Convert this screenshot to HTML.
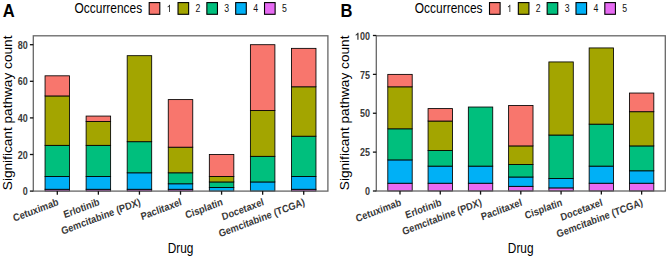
<!DOCTYPE html>
<html><head><meta charset="utf-8"><style>
html,body{margin:0;padding:0;background:#fff;}
svg{display:block;font-family:"Liberation Sans",sans-serif;}
</style></head><body>
<svg width="668" height="258" viewBox="0 0 668 258">
<rect width="668" height="258" fill="#fff"/>
<text transform="translate(2.80 16.80) scale(0.890 1)" font-size="18.60" font-weight="bold" text-anchor="start" fill="#000">A</text>
<text transform="translate(74.50 13.10) scale(0.860 1)" font-size="13.90" font-weight="normal" text-anchor="start" fill="#000">Occurrences</text>
<rect x="149.20" y="2.6" width="10.6" height="11.7" fill="#F8766D" stroke="#000" stroke-width="1.1"/>
<path transform="translate(166.70 11.90) scale(0.00427 -0.00508)" d="M763 0L583 0L583 1102Q518 1043 413 983Q307 924 223 894L223 1061Q374 1129 488 1226Q601 1323 648 1409L763 1409Z" fill="#111"/>
<rect x="178.03" y="2.6" width="10.6" height="11.7" fill="#A3A500" stroke="#000" stroke-width="1.1"/>
<text transform="translate(195.53 11.90) scale(0.840 1)" font-size="10.40" font-weight="normal" text-anchor="start" fill="#111">2</text>
<rect x="206.86" y="2.6" width="10.6" height="11.7" fill="#00BF7D" stroke="#000" stroke-width="1.1"/>
<text transform="translate(224.36 11.90) scale(0.840 1)" font-size="10.40" font-weight="normal" text-anchor="start" fill="#111">3</text>
<rect x="235.69" y="2.6" width="10.6" height="11.7" fill="#00B0F6" stroke="#000" stroke-width="1.1"/>
<text transform="translate(253.19 11.90) scale(0.840 1)" font-size="10.40" font-weight="normal" text-anchor="start" fill="#111">4</text>
<rect x="264.52" y="2.6" width="10.6" height="11.7" fill="#E76BF3" stroke="#000" stroke-width="1.1"/>
<text transform="translate(282.02 11.90) scale(0.840 1)" font-size="10.40" font-weight="normal" text-anchor="start" fill="#111">5</text>
<rect x="45.05" y="189.27" width="24.50" height="1.83" fill="#E76BF3" stroke="#000" stroke-width="0.85"/>
<rect x="45.05" y="176.46" width="24.50" height="12.81" fill="#00B0F6" stroke="#000" stroke-width="0.85"/>
<rect x="45.05" y="145.35" width="24.50" height="31.11" fill="#00BF7D" stroke="#000" stroke-width="0.85"/>
<rect x="45.05" y="95.94" width="24.50" height="49.41" fill="#A3A500" stroke="#000" stroke-width="0.85"/>
<rect x="45.05" y="75.81" width="24.50" height="20.13" fill="#F8766D" stroke="#000" stroke-width="0.85"/>
<rect x="86.12" y="189.27" width="24.50" height="1.83" fill="#E76BF3" stroke="#000" stroke-width="0.85"/>
<rect x="86.12" y="176.46" width="24.50" height="12.81" fill="#00B0F6" stroke="#000" stroke-width="0.85"/>
<rect x="86.12" y="145.35" width="24.50" height="31.11" fill="#00BF7D" stroke="#000" stroke-width="0.85"/>
<rect x="86.12" y="121.56" width="24.50" height="23.79" fill="#A3A500" stroke="#000" stroke-width="0.85"/>
<rect x="86.12" y="116.07" width="24.50" height="5.49" fill="#F8766D" stroke="#000" stroke-width="0.85"/>
<rect x="127.19" y="189.27" width="24.50" height="1.83" fill="#E76BF3" stroke="#000" stroke-width="0.85"/>
<rect x="127.19" y="172.80" width="24.50" height="16.47" fill="#00B0F6" stroke="#000" stroke-width="0.85"/>
<rect x="127.19" y="141.69" width="24.50" height="31.11" fill="#00BF7D" stroke="#000" stroke-width="0.85"/>
<rect x="127.19" y="55.68" width="24.50" height="86.01" fill="#A3A500" stroke="#000" stroke-width="0.85"/>
<rect x="168.26" y="189.27" width="24.50" height="1.83" fill="#E76BF3" stroke="#000" stroke-width="0.85"/>
<rect x="168.26" y="183.78" width="24.50" height="5.49" fill="#00B0F6" stroke="#000" stroke-width="0.85"/>
<rect x="168.26" y="172.80" width="24.50" height="10.98" fill="#00BF7D" stroke="#000" stroke-width="0.85"/>
<rect x="168.26" y="147.18" width="24.50" height="25.62" fill="#A3A500" stroke="#000" stroke-width="0.85"/>
<rect x="168.26" y="99.60" width="24.50" height="47.58" fill="#F8766D" stroke="#000" stroke-width="0.85"/>
<rect x="209.33" y="187.44" width="24.50" height="3.66" fill="#00B0F6" stroke="#000" stroke-width="0.85"/>
<rect x="209.33" y="181.95" width="24.50" height="5.49" fill="#00BF7D" stroke="#000" stroke-width="0.85"/>
<rect x="209.33" y="176.46" width="24.50" height="5.49" fill="#A3A500" stroke="#000" stroke-width="0.85"/>
<rect x="209.33" y="154.50" width="24.50" height="21.96" fill="#F8766D" stroke="#000" stroke-width="0.85"/>
<rect x="250.40" y="181.95" width="24.50" height="9.15" fill="#00B0F6" stroke="#000" stroke-width="0.85"/>
<rect x="250.40" y="156.33" width="24.50" height="25.62" fill="#00BF7D" stroke="#000" stroke-width="0.85"/>
<rect x="250.40" y="110.58" width="24.50" height="45.75" fill="#A3A500" stroke="#000" stroke-width="0.85"/>
<rect x="250.40" y="44.70" width="24.50" height="65.88" fill="#F8766D" stroke="#000" stroke-width="0.85"/>
<rect x="291.47" y="189.27" width="24.50" height="1.83" fill="#E76BF3" stroke="#000" stroke-width="0.85"/>
<rect x="291.47" y="176.46" width="24.50" height="12.81" fill="#00B0F6" stroke="#000" stroke-width="0.85"/>
<rect x="291.47" y="136.20" width="24.50" height="40.26" fill="#00BF7D" stroke="#000" stroke-width="0.85"/>
<rect x="291.47" y="86.79" width="24.50" height="49.41" fill="#A3A500" stroke="#000" stroke-width="0.85"/>
<rect x="291.47" y="48.36" width="24.50" height="38.43" fill="#F8766D" stroke="#000" stroke-width="0.85"/>
<rect x="33.30" y="35.80" width="294.60" height="155.30" fill="none" stroke="#666666" stroke-width="1.3"/>
<line x1="29.90" y1="191.10" x2="33.30" y2="191.10" stroke="#111" stroke-width="1.3"/>
<text transform="translate(22.80 195.25) scale(0.890 1)" font-size="10.10" font-weight="bold" text-anchor="start" fill="#383838">0</text>
<line x1="29.90" y1="154.50" x2="33.30" y2="154.50" stroke="#111" stroke-width="1.3"/>
<text transform="translate(17.80 158.65) scale(0.890 1)" font-size="10.10" font-weight="bold" text-anchor="start" fill="#383838">2</text>
<text transform="translate(22.80 158.65) scale(0.890 1)" font-size="10.10" font-weight="bold" text-anchor="start" fill="#383838">0</text>
<line x1="29.90" y1="117.90" x2="33.30" y2="117.90" stroke="#111" stroke-width="1.3"/>
<text transform="translate(17.80 122.05) scale(0.890 1)" font-size="10.10" font-weight="bold" text-anchor="start" fill="#383838">4</text>
<text transform="translate(22.80 122.05) scale(0.890 1)" font-size="10.10" font-weight="bold" text-anchor="start" fill="#383838">0</text>
<line x1="29.90" y1="81.30" x2="33.30" y2="81.30" stroke="#111" stroke-width="1.3"/>
<text transform="translate(17.80 85.45) scale(0.890 1)" font-size="10.10" font-weight="bold" text-anchor="start" fill="#383838">6</text>
<text transform="translate(22.80 85.45) scale(0.890 1)" font-size="10.10" font-weight="bold" text-anchor="start" fill="#383838">0</text>
<line x1="29.90" y1="44.70" x2="33.30" y2="44.70" stroke="#111" stroke-width="1.3"/>
<text transform="translate(17.80 48.85) scale(0.890 1)" font-size="10.10" font-weight="bold" text-anchor="start" fill="#383838">8</text>
<text transform="translate(22.80 48.85) scale(0.890 1)" font-size="10.10" font-weight="bold" text-anchor="start" fill="#383838">0</text>
<line x1="57.30" y1="191.10" x2="57.30" y2="194.70" stroke="#111" stroke-width="1.3"/>
<text transform="translate(59.10 204.80) scale(0.890 1) rotate(-18.70)" font-size="10.40" font-weight="bold" text-anchor="end" fill="#383838">Cetuximab</text>
<line x1="98.37" y1="191.10" x2="98.37" y2="194.70" stroke="#111" stroke-width="1.3"/>
<text transform="translate(100.17 204.80) scale(0.890 1) rotate(-18.70)" font-size="10.40" font-weight="bold" text-anchor="end" fill="#383838">Erlotinib</text>
<line x1="139.44" y1="191.10" x2="139.44" y2="194.70" stroke="#111" stroke-width="1.3"/>
<text transform="translate(141.24 204.80) scale(0.890 1) rotate(-18.70)" font-size="10.40" font-weight="bold" text-anchor="end" fill="#383838">Gemcitabine (PDX)</text>
<line x1="180.51" y1="191.10" x2="180.51" y2="194.70" stroke="#111" stroke-width="1.3"/>
<text transform="translate(182.31 204.80) scale(0.890 1) rotate(-18.70)" font-size="10.40" font-weight="bold" text-anchor="end" fill="#383838">Paclitaxel</text>
<line x1="221.58" y1="191.10" x2="221.58" y2="194.70" stroke="#111" stroke-width="1.3"/>
<text transform="translate(223.38 204.80) scale(0.890 1) rotate(-18.70)" font-size="10.40" font-weight="bold" text-anchor="end" fill="#383838">Cisplatin</text>
<line x1="262.65" y1="191.10" x2="262.65" y2="194.70" stroke="#111" stroke-width="1.3"/>
<text transform="translate(264.45 204.80) scale(0.890 1) rotate(-18.70)" font-size="10.40" font-weight="bold" text-anchor="end" fill="#383838">Docetaxel</text>
<line x1="303.72" y1="191.10" x2="303.72" y2="194.70" stroke="#111" stroke-width="1.3"/>
<text transform="translate(305.52 204.80) scale(0.890 1) rotate(-18.70)" font-size="10.40" font-weight="bold" text-anchor="end" fill="#383838">Gemcitabine (TCGA)</text>
<text transform="translate(180.60 252.70) scale(0.835 1)" font-size="14.20" font-weight="normal" text-anchor="middle" fill="#000">Drug</text>
<text transform="translate(11.60 112.90) scale(0.88 1) rotate(-90)" font-size="13.65" text-anchor="middle" fill="#000">Significant pathway count</text>
<text transform="translate(340.60 16.80) scale(0.890 1)" font-size="18.60" font-weight="bold" text-anchor="start" fill="#000">B</text>
<text transform="translate(414.80 13.10) scale(0.860 1)" font-size="13.90" font-weight="normal" text-anchor="start" fill="#000">Occurrences</text>
<rect x="489.50" y="2.6" width="10.6" height="11.7" fill="#F8766D" stroke="#000" stroke-width="1.1"/>
<path transform="translate(507.00 11.90) scale(0.00427 -0.00508)" d="M763 0L583 0L583 1102Q518 1043 413 983Q307 924 223 894L223 1061Q374 1129 488 1226Q601 1323 648 1409L763 1409Z" fill="#111"/>
<rect x="518.33" y="2.6" width="10.6" height="11.7" fill="#A3A500" stroke="#000" stroke-width="1.1"/>
<text transform="translate(535.83 11.90) scale(0.840 1)" font-size="10.40" font-weight="normal" text-anchor="start" fill="#111">2</text>
<rect x="547.16" y="2.6" width="10.6" height="11.7" fill="#00BF7D" stroke="#000" stroke-width="1.1"/>
<text transform="translate(564.66 11.90) scale(0.840 1)" font-size="10.40" font-weight="normal" text-anchor="start" fill="#111">3</text>
<rect x="575.99" y="2.6" width="10.6" height="11.7" fill="#00B0F6" stroke="#000" stroke-width="1.1"/>
<text transform="translate(593.49 11.90) scale(0.840 1)" font-size="10.40" font-weight="normal" text-anchor="start" fill="#111">4</text>
<rect x="604.82" y="2.6" width="10.6" height="11.7" fill="#E76BF3" stroke="#000" stroke-width="1.1"/>
<text transform="translate(622.32 11.90) scale(0.840 1)" font-size="10.40" font-weight="normal" text-anchor="start" fill="#111">5</text>
<rect x="387.80" y="183.22" width="24.40" height="7.78" fill="#E76BF3" stroke="#000" stroke-width="0.85"/>
<rect x="387.80" y="159.90" width="24.40" height="23.32" fill="#00B0F6" stroke="#000" stroke-width="0.85"/>
<rect x="387.80" y="128.80" width="24.40" height="31.10" fill="#00BF7D" stroke="#000" stroke-width="0.85"/>
<rect x="387.80" y="86.81" width="24.40" height="41.99" fill="#A3A500" stroke="#000" stroke-width="0.85"/>
<rect x="387.80" y="74.38" width="24.40" height="12.44" fill="#F8766D" stroke="#000" stroke-width="0.85"/>
<rect x="428.07" y="183.22" width="24.40" height="7.78" fill="#E76BF3" stroke="#000" stroke-width="0.85"/>
<rect x="428.07" y="166.12" width="24.40" height="17.10" fill="#00B0F6" stroke="#000" stroke-width="0.85"/>
<rect x="428.07" y="150.57" width="24.40" height="15.55" fill="#00BF7D" stroke="#000" stroke-width="0.85"/>
<rect x="428.07" y="121.03" width="24.40" height="29.54" fill="#A3A500" stroke="#000" stroke-width="0.85"/>
<rect x="428.07" y="108.59" width="24.40" height="12.44" fill="#F8766D" stroke="#000" stroke-width="0.85"/>
<rect x="468.34" y="183.22" width="24.40" height="7.78" fill="#E76BF3" stroke="#000" stroke-width="0.85"/>
<rect x="468.34" y="166.12" width="24.40" height="17.10" fill="#00B0F6" stroke="#000" stroke-width="0.85"/>
<rect x="468.34" y="107.03" width="24.40" height="59.09" fill="#00BF7D" stroke="#000" stroke-width="0.85"/>
<rect x="508.61" y="186.34" width="24.40" height="4.66" fill="#E76BF3" stroke="#000" stroke-width="0.85"/>
<rect x="508.61" y="177.00" width="24.40" height="9.33" fill="#00B0F6" stroke="#000" stroke-width="0.85"/>
<rect x="508.61" y="164.56" width="24.40" height="12.44" fill="#00BF7D" stroke="#000" stroke-width="0.85"/>
<rect x="508.61" y="145.91" width="24.40" height="18.66" fill="#A3A500" stroke="#000" stroke-width="0.85"/>
<rect x="508.61" y="105.48" width="24.40" height="40.43" fill="#F8766D" stroke="#000" stroke-width="0.85"/>
<rect x="548.88" y="187.89" width="24.40" height="3.11" fill="#E76BF3" stroke="#000" stroke-width="0.85"/>
<rect x="548.88" y="178.56" width="24.40" height="9.33" fill="#00B0F6" stroke="#000" stroke-width="0.85"/>
<rect x="548.88" y="135.02" width="24.40" height="43.54" fill="#00BF7D" stroke="#000" stroke-width="0.85"/>
<rect x="548.88" y="61.94" width="24.40" height="73.09" fill="#A3A500" stroke="#000" stroke-width="0.85"/>
<rect x="589.15" y="183.22" width="24.40" height="7.78" fill="#E76BF3" stroke="#000" stroke-width="0.85"/>
<rect x="589.15" y="166.12" width="24.40" height="17.10" fill="#00B0F6" stroke="#000" stroke-width="0.85"/>
<rect x="589.15" y="124.14" width="24.40" height="41.98" fill="#00BF7D" stroke="#000" stroke-width="0.85"/>
<rect x="589.15" y="47.94" width="24.40" height="76.20" fill="#A3A500" stroke="#000" stroke-width="0.85"/>
<rect x="629.42" y="183.22" width="24.40" height="7.78" fill="#E76BF3" stroke="#000" stroke-width="0.85"/>
<rect x="629.42" y="170.78" width="24.40" height="12.44" fill="#00B0F6" stroke="#000" stroke-width="0.85"/>
<rect x="629.42" y="145.91" width="24.40" height="24.88" fill="#00BF7D" stroke="#000" stroke-width="0.85"/>
<rect x="629.42" y="111.70" width="24.40" height="34.21" fill="#A3A500" stroke="#000" stroke-width="0.85"/>
<rect x="629.42" y="93.04" width="24.40" height="18.66" fill="#F8766D" stroke="#000" stroke-width="0.85"/>
<rect x="376.30" y="35.80" width="289.00" height="155.20" fill="none" stroke="#666666" stroke-width="1.3"/>
<line x1="372.90" y1="191.00" x2="376.30" y2="191.00" stroke="#111" stroke-width="1.3"/>
<text transform="translate(364.90 195.15) scale(0.890 1)" font-size="10.10" font-weight="bold" text-anchor="start" fill="#383838">0</text>
<line x1="372.90" y1="152.12" x2="376.30" y2="152.12" stroke="#111" stroke-width="1.3"/>
<text transform="translate(359.90 156.28) scale(0.890 1)" font-size="10.10" font-weight="bold" text-anchor="start" fill="#383838">2</text>
<text transform="translate(364.90 156.28) scale(0.890 1)" font-size="10.10" font-weight="bold" text-anchor="start" fill="#383838">5</text>
<line x1="372.90" y1="113.25" x2="376.30" y2="113.25" stroke="#111" stroke-width="1.3"/>
<text transform="translate(359.90 117.40) scale(0.890 1)" font-size="10.10" font-weight="bold" text-anchor="start" fill="#383838">5</text>
<text transform="translate(364.90 117.40) scale(0.890 1)" font-size="10.10" font-weight="bold" text-anchor="start" fill="#383838">0</text>
<line x1="372.90" y1="74.38" x2="376.30" y2="74.38" stroke="#111" stroke-width="1.3"/>
<text transform="translate(359.90 78.53) scale(0.890 1)" font-size="10.10" font-weight="bold" text-anchor="start" fill="#383838">7</text>
<text transform="translate(364.90 78.53) scale(0.890 1)" font-size="10.10" font-weight="bold" text-anchor="start" fill="#383838">5</text>
<line x1="372.90" y1="35.50" x2="376.30" y2="35.50" stroke="#111" stroke-width="1.3"/>
<path transform="translate(354.91 39.65) scale(0.00439 -0.00493)" d="M825 0L544 0L544 1018Q390 879 181 813L181 1058Q291 1093 420 1189Q549 1286 597 1409L825 1409Z" fill="#383838"/>
<text transform="translate(359.90 39.65) scale(0.890 1)" font-size="10.10" font-weight="bold" text-anchor="start" fill="#383838">0</text>
<text transform="translate(364.90 39.65) scale(0.890 1)" font-size="10.10" font-weight="bold" text-anchor="start" fill="#383838">0</text>
<line x1="400.00" y1="191.00" x2="400.00" y2="194.60" stroke="#111" stroke-width="1.3"/>
<text transform="translate(401.80 205.20) scale(0.890 1) rotate(-18.70)" font-size="10.40" font-weight="bold" text-anchor="end" fill="#383838">Cetuximab</text>
<line x1="440.27" y1="191.00" x2="440.27" y2="194.60" stroke="#111" stroke-width="1.3"/>
<text transform="translate(442.07 205.20) scale(0.890 1) rotate(-18.70)" font-size="10.40" font-weight="bold" text-anchor="end" fill="#383838">Erlotinib</text>
<line x1="480.54" y1="191.00" x2="480.54" y2="194.60" stroke="#111" stroke-width="1.3"/>
<text transform="translate(482.34 205.20) scale(0.890 1) rotate(-18.70)" font-size="10.40" font-weight="bold" text-anchor="end" fill="#383838">Gemcitabine (PDX)</text>
<line x1="520.81" y1="191.00" x2="520.81" y2="194.60" stroke="#111" stroke-width="1.3"/>
<text transform="translate(522.61 205.20) scale(0.890 1) rotate(-18.70)" font-size="10.40" font-weight="bold" text-anchor="end" fill="#383838">Paclitaxel</text>
<line x1="561.08" y1="191.00" x2="561.08" y2="194.60" stroke="#111" stroke-width="1.3"/>
<text transform="translate(562.88 205.20) scale(0.890 1) rotate(-18.70)" font-size="10.40" font-weight="bold" text-anchor="end" fill="#383838">Cisplatin</text>
<line x1="601.35" y1="191.00" x2="601.35" y2="194.60" stroke="#111" stroke-width="1.3"/>
<text transform="translate(603.15 205.20) scale(0.890 1) rotate(-18.70)" font-size="10.40" font-weight="bold" text-anchor="end" fill="#383838">Docetaxel</text>
<line x1="641.62" y1="191.00" x2="641.62" y2="194.60" stroke="#111" stroke-width="1.3"/>
<text transform="translate(643.42 205.20) scale(0.890 1) rotate(-18.70)" font-size="10.40" font-weight="bold" text-anchor="end" fill="#383838">Gemcitabine (TCGA)</text>
<text transform="translate(520.70 252.70) scale(0.835 1)" font-size="14.20" font-weight="normal" text-anchor="middle" fill="#000">Drug</text>
<text transform="translate(349.30 112.90) scale(0.88 1) rotate(-90)" font-size="13.65" text-anchor="middle" fill="#000">Significant pathway count</text>
</svg></body></html>
